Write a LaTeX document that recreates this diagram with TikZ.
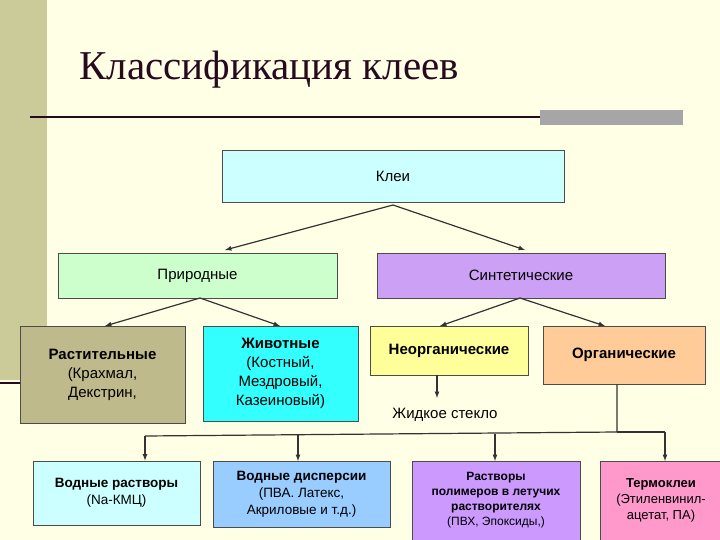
\documentclass[tikz,border=0pt]{standalone}
\usepackage{fontspec}
\setmainfont{Liberation Sans}
\newfontfamily\titlefont{Liberation Serif}
\definecolor{bg}{RGB}{255,255,230}
\definecolor{band}{RGB}{203,203,154}
\definecolor{dk}{RGB}{40,10,30}
\definecolor{c1}{RGB}{204,255,255}
\definecolor{c2}{RGB}{204,255,204}
\definecolor{c3}{RGB}{204,160,245}
\definecolor{c4}{RGB}{190,186,140}
\definecolor{c5}{RGB}{51,255,255}
\definecolor{c6}{RGB}{255,255,153}
\definecolor{c7}{RGB}{255,204,153}
\definecolor{c8}{RGB}{153,204,255}
\definecolor{c9}{RGB}{204,153,255}
\definecolor{c10}{RGB}{255,153,204}
\begin{document}
\begin{tikzpicture}[x=1pt,y=-1pt,
 bx/.style={draw=black!70,line width=0.8pt,inner sep=2pt,align=center,font=\fontsize{15}{19}\selectfont},
 ar/.style={-latex,line width=1.2pt,draw=black!80}]
\useasboundingbox (0,0) rectangle (720,540);
\fill[bg] (0,0) rectangle (720,540);
\fill[band] (0,0) rectangle (47,380);
\draw[line width=2.5pt,dk] (0,383) -- (45,383);
\draw[line width=2pt,dk] (30,117) -- (545,117);
\fill[gray!70] (540,110) rectangle (683,125);
\node[font=\titlefont\fontsize{41}{43}\selectfont,anchor=west,text=dk] (t) at (76,70) {Классификация клеев};

\node[bx,fill=c1,minimum width=342,minimum height=52] (k) at (393,176) {Клеи};
\node[bx,fill=c2,minimum width=279,minimum height=45] (p) at (197.5,275.5) {Природные};
\node[bx,fill=c3,minimum width=288,minimum height=45] (s) at (521,275.5) {Синтетические};
\node[bx,fill=c4,minimum width=165,minimum height=97] (r) at (102.5,374.5) {\textbf{Растительные}\\(Крахмал,\\Декстрин,};
\node[bx,fill=c5,minimum width=155,minimum height=95] (zh) at (280.5,373.5) {\textbf{Животные}\\(Костный,\\Мездровый,\\Казеиновый)};
\node[bx,fill=c6,minimum width=158,minimum height=49] (n) at (449,350.5) {\textbf{Неорганические}};
\node[bx,fill=c7,minimum width=162,minimum height=58] (o) at (624,355) {\textbf{Органические}};
\node[font=\fontsize{15}{18}\selectfont] (zs) at (445,415) {Жидкое стекло};

\node[bx,fill=c1,minimum width=167,minimum height=64,font=\fontsize{13.5}{17}\selectfont] (b1) at (116.5,493) {\textbf{Водные растворы}\\(Na-КМЦ)};
\node[bx,fill=c8,minimum width=177,minimum height=66,font=\fontsize{13.5}{17}\selectfont] (b2) at (301.5,494) {\textbf{Водные дисперсии}\\(ПВА. Латекс,\\Акриловые и т.д.)};
\node[bx,fill=c9,minimum width=168,minimum height=79,font=\fontsize{12}{15}\selectfont] (b3) at (496,500.5) {\textbf{Растворы}\\\textbf{полимеров в летучих}\\\textbf{растворителях}\\(ПВХ, Эпоксиды,)};
\node[bx,fill=c10,minimum width=122,minimum height=79,font=\fontsize{13}{16}\selectfont] (b4) at (661,500.5) {\textbf{Термоклеи}\\(Этиленвинил-\\ацетат, ПА)};

\coordinate (ks) at (393,205);
\draw[ar] (ks) -- (225,250);
\draw[ar] (ks) -- (525,250);
\coordinate (ps) at (200,298);
\draw[ar] (ps) -- (105,326);
\draw[ar] (ps) -- (280,326);
\coordinate (ss) at (520,298);
\draw[ar] (ss) -- (440,326);
\draw[ar] (ss) -- (605,326);
\draw[ar] (437,375) -- (437,398);
\coordinate (oj) at (617,432);
\coordinate (lj) at (145,436);
\draw[line width=1.2pt,black!80] (o.south -| oj) -- (oj) -- (lj);
\draw[ar] (lj) -- (lj |- b1.north);
\draw[ar] (298,435) -- (298,461);
\draw[ar] (495,434) -- (495,461);
\draw[ar] (665,432) -- (665,461);
\draw[line width=1.2pt,black!80] (oj) -- (665,432);
\end{tikzpicture}
\end{document}
